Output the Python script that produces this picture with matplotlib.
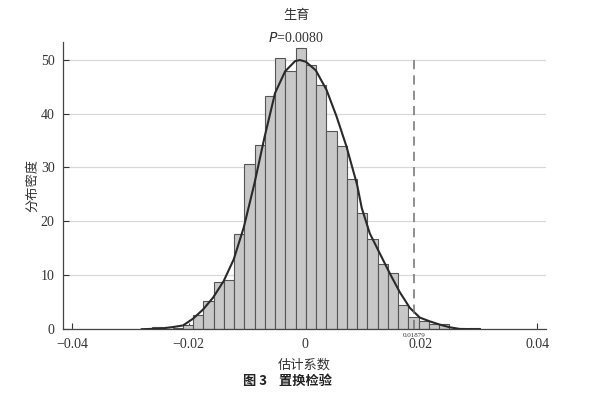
import matplotlib

matplotlib.use("Agg")
import matplotlib.pyplot as plt
import numpy as np

plt.rcParams["font.family"] = ["Liberation Serif", "Noto Sans CJK SC"]
plt.rcParams["axes.unicode_minus"] = True

# histogram of permuted coefficients (density)
bin_start = -0.02801
bin_width = 0.001762
bin_heights = [0.15, 0.5, 0.15, 0.3, 0.9, 2.7, 5.3, 8.7, 9.1, 17.6, 30.7,
               34.1, 43.3, 50.2, 47.8, 52.2, 49.0, 45.3, 36.7, 33.9, 27.8,
               21.6, 16.7, 12.2, 10.5, 4.5, 2.3, 1.5, 1.1, 1.0, 0.1, 0.1, 0.25]

# kernel density curve
kde_x = [-0.02805, -0.02495, -0.02266, -0.02094, -0.01922, -0.0175, -0.01578,
         -0.01394, -0.01222, -0.0105, -0.00865, -0.00693, -0.00511, -0.00339,
         -0.00167, -0.00086, 0.00017, 0.00189, 0.00373, 0.00545, 0.00717,
         0.0090, 0.0098, 0.01118, 0.0129, 0.01462, 0.01635, 0.01807, 0.01979,
         0.02151, 0.02323, 0.02495, 0.02667, 0.03011]
kde_y = [0.05, 0.15, 0.45, 0.75, 2.0, 3.7, 5.9, 9.0, 13.0, 18.9, 27.1, 35.6,
         43.8, 47.8, 49.7, 49.9, 49.6, 48.0, 44.4, 39.5, 33.9, 26.8, 22.5,
         17.8, 14.1, 10.4, 6.9, 4.0, 2.2, 1.5, 0.9, 0.4, 0.1, 0.05]

observed = 0.01879
observed_label = "0.01879"
p_value = "0.0080"
xticks = [-0.04, -0.02, 0, 0.02, 0.04]
xtick_labels = ["\u22120.04", "\u22120.02", "0", "0.02", "0.04"]
yticks = [0, 10, 20, 30, 40, 50]

cjk = ["Noto Sans CJK SC", "DejaVu Sans"]

fig = plt.figure(figsize=(6.01, 3.96), dpi=100)
ax = fig.add_axes([0.1048, 0.168, 0.8037, 0.7267])

lefts = bin_start + bin_width * np.arange(len(bin_heights))
ax.bar(lefts, bin_heights, width=bin_width, align="edge", color="#c8c8c8",
       edgecolor="#555555", linewidth=0.8, zorder=2)
ax.plot(kde_x, kde_y, color="#2a2a2a", lw=1.5, zorder=3)
ax.vlines(observed, 0, 50, colors="#707070", linestyles=(0, (6, 4)), lw=1.1,
          zorder=4)
ax.text(observed, -0.6, observed_label, ha="center", va="top", fontsize=5,
        color="#333333")

ax.set_xlim(-0.0416, 0.0415)
ax.set_ylim(0, 53.3)
ax.set_xticks(xticks)
ax.set_xticklabels(xtick_labels)
ax.set_yticks(yticks)
ax.yaxis.grid(True, color="#d9d9d9", lw=0.9, zorder=0)
ax.set_axisbelow(True)
ax.tick_params(direction="in", length=4, width=0.8, labelsize=10,
               colors="#333333", pad=6)
for s in ("top", "right"):
    ax.spines[s].set_visible(False)
for s in ("left", "bottom"):
    ax.spines[s].set_color("#444444")
    ax.spines[s].set_linewidth(0.9)

ax.set_xlabel("估计系数", family=cjk, fontsize=9.5, color="#333333", labelpad=6)
ax.set_ylabel("分布密度", family=cjk, fontsize=9.5, color="#333333", labelpad=1)

fig.text(0.493, 0.962, "生育", family=cjk, fontsize=9.5, ha="center",
         va="center", color="#333333")
fig.text(0.493, 0.904, f"$P$={p_value}", fontsize=10, ha="center", va="center",
         color="#333333")
fig.text(0.479, 0.038, "图 3    置换检验", family=cjk, fontsize=9.5,
         fontweight="bold", ha="center", va="center", color="#222222")

fig.savefig("out.png", dpi=100)
